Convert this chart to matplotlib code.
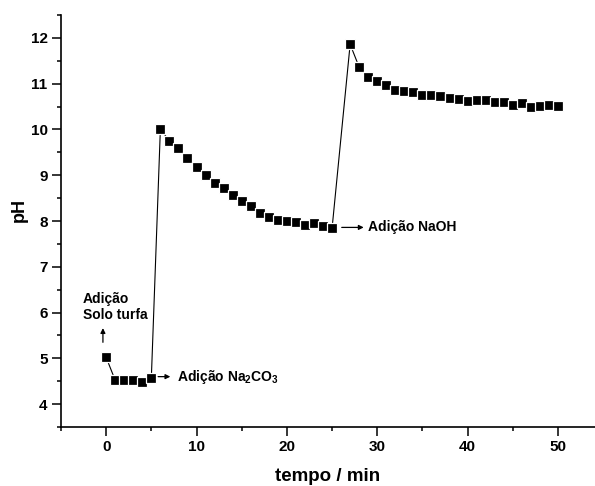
import matplotlib
matplotlib.use("Agg")
import matplotlib.pyplot as plt
import numpy as np

plt.rcParams['font.family'] = ['Liberation Sans', 'DejaVu Sans']
plt.rcParams['font.weight'] = 'bold'
plt.rcParams['mathtext.fontset'] = 'custom'
plt.rcParams['mathtext.rm'] = 'Liberation Sans:bold'
plt.rcParams['mathtext.bf'] = 'Liberation Sans:bold'
plt.rcParams['mathtext.default'] = 'rm'

tempo = [0, 1, 2, 3, 4, 5, 6, 7, 8, 9, 10, 11, 12, 13, 14, 15, 16, 17, 18, 19, 20,
         21, 22, 23, 24, 25, 27, 28, 29, 30, 31, 32, 33, 34, 35, 36, 37, 38, 39, 40,
         41, 42, 43, 44, 45, 46, 47, 48, 49, 50]
ph = [5.02, 4.52, 4.52, 4.53, 4.49, 4.58, 10.02, 9.74, 9.60, 9.38, 9.19, 9.00, 8.84,
      8.73, 8.57, 8.43, 8.33, 8.18, 8.08, 8.03, 8.01, 7.97, 7.92, 7.95, 7.88, 7.84,
      11.86, 11.36, 11.15, 11.06, 10.96, 10.87, 10.83, 10.82, 10.75, 10.75, 10.72,
      10.68, 10.67, 10.63, 10.64, 10.65, 10.60, 10.60, 10.54, 10.57, 10.50, 10.51,
      10.53, 10.51]

fig = plt.figure(figsize=(5.95, 4.86), dpi=100)
ax = fig.add_axes([61/595, 59/486, 534/595, 412/486])

ax.plot(tempo, ph, color='black', lw=0.8, marker='s', markersize=6.6,
        markerfacecolor='black', markeredgecolor='white', markeredgewidth=0.9)

ax.set_xlim(-5, 54.1)
ax.set_ylim(3.5, 12.5)
ax.set_xticks([0, 10, 20, 30, 40, 50])
ax.set_xticks(np.arange(-5, 55, 5), minor=True)
ax.set_yticks([4, 5, 6, 7, 8, 9, 10, 11, 12])
ax.set_yticks(np.arange(3.5, 12.6, 0.5), minor=True)

for s in ['top', 'right']:
    ax.spines[s].set_visible(False)
for s in ['left', 'bottom']:
    ax.spines[s].set_linewidth(1.2)

ax.tick_params(which='major', direction='out', length=6.2, width=1.1, labelsize=11)
ax.tick_params(which='minor', direction='out', length=3.2, width=1.1)
for lab in ax.get_xticklabels() + ax.get_yticklabels():
    lab.set_fontweight('bold')

ax.set_xlabel('tempo / min', fontsize=13.5, fontweight='bold')
ax.set_ylabel('pH', fontsize=13, fontweight='bold')
ax.xaxis.set_label_coords(0.5, -0.1)
ax.yaxis.set_label_coords(-0.079, 0.527)
ax.yaxis.label.set_va('center')

arrow_kw = dict(arrowstyle='-|>', color='black', lw=0.9, mutation_scale=7,
                shrinkA=0, shrinkB=0)

ax.annotate('', xy=(-0.36, 5.66), xytext=(-0.36, 5.35), arrowprops=arrow_kw)
ax.text(-2.55, 5.86, 'Adição\nSolo turfa', fontsize=10, fontweight='bold',
        ha='left', va='baseline', linespacing=1.2)

ax.annotate('', xy=(7.1, 4.6), xytext=(5.75, 4.6), arrowprops=arrow_kw)
ax.text(7.8, 4.6, 'Adição Na$_2$CO$_3$', fontsize=10, fontweight='bold',
        ha='left', va='center')

ax.annotate('', xy=(28.5, 7.86), xytext=(26.07, 7.86), arrowprops=arrow_kw)
ax.text(29.0, 7.86, 'Adição NaOH', fontsize=10, fontweight='bold',
        ha='left', va='center')

fig.savefig('out.png', dpi=100)
